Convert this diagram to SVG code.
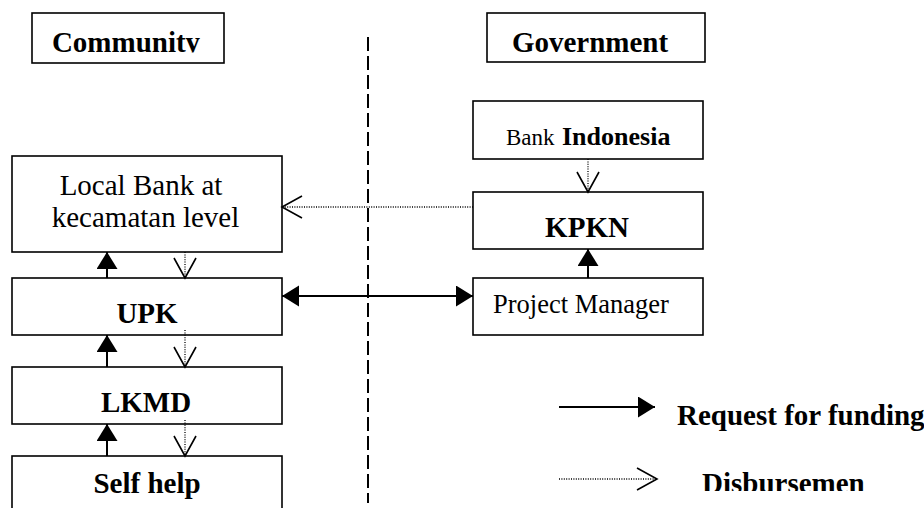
<svg xmlns="http://www.w3.org/2000/svg" width="924" height="508" viewBox="0 0 924 508">
  <style>
    .box { fill: #fff; stroke: #000; stroke-width: 1.6; }
    .t { font-family: "Liberation Serif", "Times New Roman", serif; fill: #000; }
    .b { font-weight: bold; font-size: 29px; }
    .r { font-size: 29px; }
    .req { stroke: #000; stroke-width: 2; fill: none; }
    .dis { stroke: #000; stroke-width: 1.3; stroke-dasharray: 1 1.4; fill: none; }
    .div { stroke: #000; stroke-width: 2; stroke-dasharray: 14 5; fill: none; }
  </style>
  <defs>
    <marker id="solidHead" markerUnits="userSpaceOnUse" markerWidth="18" markerHeight="22" refX="17" refY="10.5" orient="auto-start-reverse" viewBox="0 0 18 22">
      <path d="M0,0 L17,10.5 L0,21 Z" fill="#000"/>
    </marker>
    <marker id="openHead" markerUnits="userSpaceOnUse" markerWidth="24" markerHeight="26" refX="21" refY="12" orient="auto" viewBox="0 0 24 26">
      <path d="M1,1 L21,12 L1,23" fill="none" stroke="#000" stroke-width="1.6"/>
    </marker>
    <clipPath id="clipTop"><rect x="0" y="0" width="924" height="52.5"/></clipPath>
    <clipPath id="clipLegend"><rect x="0" y="0" width="924" height="491"/></clipPath>
  </defs>

  <g id="divider">
    <line class="div" x1="368" y1="37" x2="368" y2="503"/>
  </g>

  <g id="community-header">
    <rect class="box" x="32" y="13" width="192" height="50"/>
    <text class="t b" x="126" y="52" text-anchor="middle" clip-path="url(#clipTop)">Community</text>
  </g>

  <g id="government-header">
    <rect class="box" x="487" y="13" width="218" height="49"/>
    <text class="t b" x="590" y="52" text-anchor="middle" clip-path="url(#clipTop)">Government</text>
  </g>

  <g id="bank-indonesia">
    <rect class="box" x="473" y="101" width="230" height="58"/>
    <text class="t" y="145"><tspan x="506" font-size="23px">Bank</tspan><tspan x="562" font-size="26px" font-weight="bold">Indonesia</tspan></text>
  </g>

  <g id="kpkn">
    <rect class="box" x="473" y="192" width="230" height="57"/>
    <text class="t b" x="587" y="237" text-anchor="middle">KPKN</text>
  </g>

  <g id="project-manager">
    <rect class="box" x="473" y="278" width="230" height="57"/>
    <text class="t" x="493" y="313" font-size="26.5px">Project Manager</text>
  </g>

  <g id="local-bank">
    <rect class="box" x="12" y="156" width="270" height="96"/>
    <text class="t r" x="141" y="195" text-anchor="middle">Local Bank at</text>
    <text class="t r" x="145.5" y="227" text-anchor="middle">kecamatan level</text>
  </g>

  <g id="upk">
    <rect class="box" x="12" y="278" width="270" height="57"/>
    <text class="t b" x="147" y="323" text-anchor="middle">UPK</text>
  </g>

  <g id="lkmd">
    <rect class="box" x="12" y="367" width="270" height="57"/>
    <text class="t b" x="146" y="412" text-anchor="middle">LKMD</text>
  </g>

  <g id="self-help">
    <rect class="box" x="12" y="456" width="270" height="60"/>
    <text class="t b" x="147" y="493" text-anchor="middle">Self help</text>
  </g>

  <g id="connectors">
    <line class="dis" x1="588" y1="159" x2="588" y2="192" marker-end="url(#openHead)"/>
    <line class="dis" x1="473" y1="207" x2="282" y2="207" marker-end="url(#openHead)"/>
    <line class="req" x1="282" y1="296" x2="473" y2="296" marker-start="url(#solidHead)" marker-end="url(#solidHead)"/>
    <line class="req" x1="588" y1="278" x2="588" y2="249" marker-end="url(#solidHead)"/>
    <line class="req" x1="107" y1="278" x2="107" y2="252" marker-end="url(#solidHead)"/>
    <line class="dis" x1="185" y1="252" x2="185" y2="278" marker-end="url(#openHead)"/>
    <line class="req" x1="107" y1="367" x2="107" y2="335" marker-end="url(#solidHead)"/>
    <line class="dis" x1="185" y1="330" x2="185" y2="367" marker-end="url(#openHead)"/>
    <line class="req" x1="107" y1="456" x2="107" y2="424" marker-end="url(#solidHead)"/>
    <line class="dis" x1="185" y1="420" x2="185" y2="456" marker-end="url(#openHead)"/>
  </g>

  <g id="legend">
    <line class="req" x1="559" y1="407" x2="655" y2="407" marker-end="url(#solidHead)"/>
    <text class="t b" x="677" y="425" font-size="28.5px">Request for funding</text>
    <line class="dis" x1="559" y1="479" x2="657" y2="479" marker-end="url(#openHead)"/>
    <text class="t b" x="702" y="493" font-size="28.5px" clip-path="url(#clipLegend)">Disbursemen</text>
  </g>
</svg>
